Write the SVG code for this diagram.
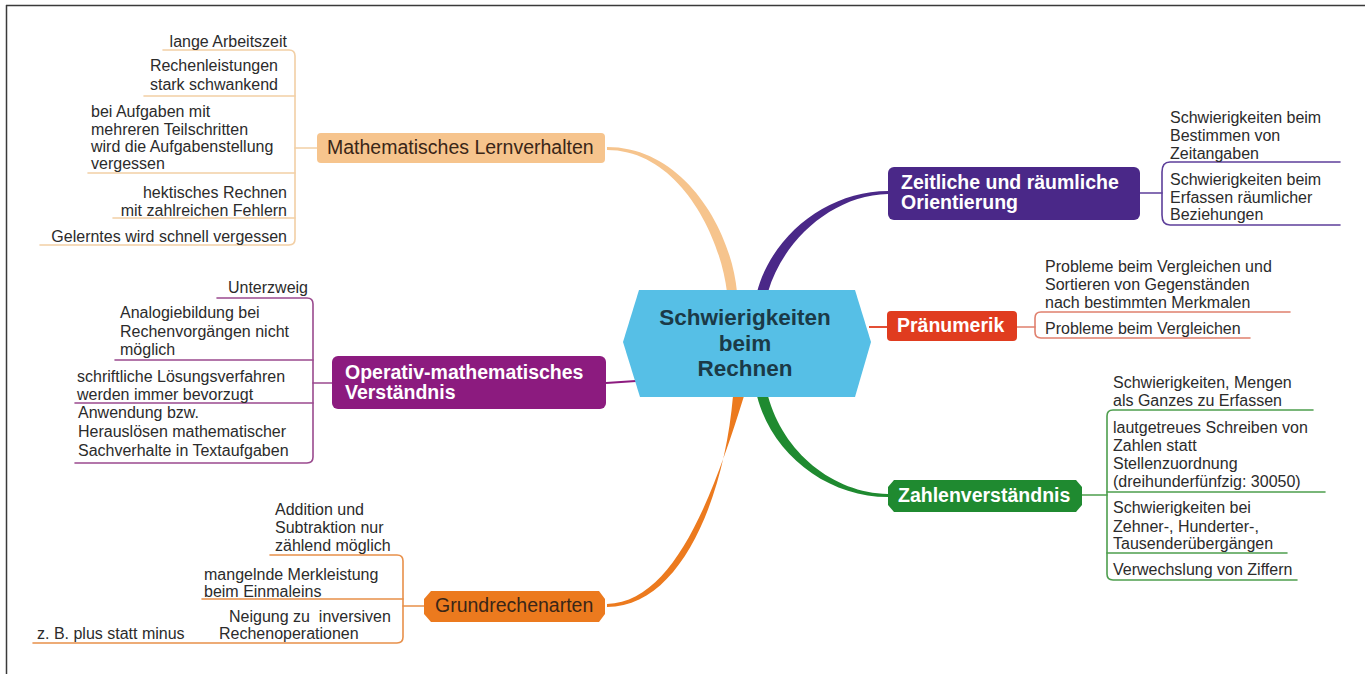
<svg xmlns="http://www.w3.org/2000/svg" width="1365" height="674" viewBox="0 0 1365 674">
  <style>
    .leaf { font-family: "Liberation Sans", Arial, sans-serif; font-size: 16px; fill: #2b2b2b; }
    .end { text-anchor: end; }
    .main { font-family: "Liberation Sans", Arial, sans-serif; font-size: 19.5px; }
    .bold { font-weight: bold; fill: #ffffff; }
    .reg { fill: #3a2617; }
    .center { font-family: "Liberation Sans", Arial, sans-serif; font-size: 22.5px; font-weight: bold; fill: #1b3a47; text-anchor: middle; }
    .br { fill: none; stroke-width: 1.6; stroke-linecap: round; stroke-linejoin: round; }
    .peach { stroke: #f2cfa5; }
    .mag { stroke: #9a4a8e; }
    .org { stroke: #e8904a; }
    .pur { stroke: #5d3f9a; }
    .red { stroke: #e0806e; }
    .grn { stroke: #4e9e4e; }
  </style>

  <!-- frame -->
  <g id="frame" stroke="#3a3a3a" stroke-width="1.5" fill="none">
    <line x1="6" y1="5.5" x2="1365" y2="5.5"/>
    <line x1="6.5" y1="5" x2="6.5" y2="674"/>
  </g>

  <!-- connectors: main branches and leaf brackets -->
  <g id="connectors">
    <!-- tapered main branches -->
    <path d="M607,147 C683,147 731,228 737,292 L727,292 C720,234 678,150 607,150 Z" fill="#f6c48d"/>
    <path d="M757,292 C772,235 828,191 888,191 L888,194 C833,195 783,240 768,292 Z" fill="#4a2888"/>
    <path d="M757,396 C772,455 828,497 888,497 L888,494 C833,493 783,452 768,396 Z" fill="#1f8a30"/>
    <path d="M733,396 C724,500 680,607 607,607 L607,604 C673,602 712,500 744,396 Z" fill="#ec7a1e"/>
    <line x1="606" y1="383" x2="636" y2="381" stroke="#8c1b7f" stroke-width="1.8"/>
    <line x1="869" y1="327" x2="887" y2="327" stroke="#e03c1f" stroke-width="1.8"/>

    <!-- Mathematisches Lernverhalten leaves -->
    <path class="br peach" d="M163,50 H289 Q295,50 295,56 V239 Q295,245 289,245 H40"/>
    <path class="br peach" d="M144,96 H295 M88,173 H295 M113,218 H295 M295,148 H317"/>

    <!-- Operativ-mathematisches Verständnis leaves -->
    <path class="br mag" d="M217,298 H307 Q313,298 313,304 V457 Q313,463 307,463 H75"/>
    <path class="br mag" d="M115,360 H313 M75,403 H313 M313,383 H332"/>

    <!-- Grundrechenarten leaves -->
    <path class="br org" d="M270,555 H397 Q403,555 403,561 V637 Q403,643 397,643 H33"/>
    <path class="br org" d="M202,599 H403 M403,606 H424"/>

    <!-- Zeitliche und räumliche Orientierung leaves -->
    <path class="br pur" d="M1340,162 H1170 Q1162,162 1162,172 V215 Q1162,225 1170,225 H1340"/>
    <path class="br pur" d="M1140,193 H1162"/>

    <!-- Pränumerik leaves -->
    <path class="br red" d="M1290,312 H1041 Q1035,312 1035,318 V332 Q1035,338 1041,338 H1250"/>
    <path class="br red" d="M1017,327 H1035"/>

    <!-- Zahlenverständnis leaves -->
    <path class="br grn" d="M1313,410 H1113 Q1107,410 1107,416 V574 Q1107,580 1113,580 H1297"/>
    <path class="br grn" d="M1107,492 H1325 M1107,553 H1287 M1082,495 H1107"/>
  </g>

  <!-- central topic -->
  <g id="center">
    <polygon points="639,290 855,290 871,342 855,397 640,397 623,342" fill="#56bfe6"/>
    <text class="center" x="745" y="325">Schwierigkeiten</text>
    <text class="center" x="745" y="351">beim</text>
    <text class="center" x="745" y="376">Rechnen</text>
  </g>

  <!-- branch: Mathematisches Lernverhalten -->
  <g id="mathematisches-lernverhalten">
    <rect x="317" y="133" width="288" height="30" rx="4" fill="#f6c48d"/>
    <text class="main reg" x="327" y="154">Mathematisches Lernverhalten</text>
  </g>
  <g id="math-leaves" class="leaf">
    <text class="leaf end" x="287" y="47">lange Arbeitszeit</text>
    <text class="leaf end" x="278" y="71">Rechenleistungen</text>
    <text class="leaf end" x="278" y="90">stark schwankend</text>
    <text class="leaf" x="91" y="117">bei Aufgaben mit</text>
    <text class="leaf" x="91" y="135">mehreren Teilschritten</text>
    <text class="leaf" x="91" y="152">wird die Aufgabenstellung</text>
    <text class="leaf" x="91" y="169">vergessen</text>
    <text class="leaf end" x="287" y="198">hektisches Rechnen</text>
    <text class="leaf end" x="287" y="216">mit zahlreichen Fehlern</text>
    <text class="leaf end" x="287" y="242">Gelerntes wird schnell vergessen</text>
  </g>

  <!-- branch: Operativ-mathematisches Verständnis -->
  <g id="operativ-mathematisches-verstaendnis">
    <rect x="332" y="356" width="274" height="53" rx="6" fill="#8c1b7f"/>
    <text class="main bold" x="345" y="379">Operativ-mathematisches</text>
    <text class="main bold" x="345" y="399">Verständnis</text>
  </g>
  <g id="operativ-leaves">
    <text class="leaf end" x="308" y="293">Unterzweig</text>
    <text class="leaf" x="120" y="318">Analogiebildung bei</text>
    <text class="leaf" x="120" y="337">Rechenvorgängen nicht</text>
    <text class="leaf" x="120" y="355">möglich</text>
    <text class="leaf" x="77" y="382">schriftliche Lösungsverfahren</text>
    <text class="leaf" x="77" y="400">werden immer bevorzugt</text>
    <text class="leaf" x="78" y="418">Anwendung bzw.</text>
    <text class="leaf" x="78" y="437">Herauslösen mathematischer</text>
    <text class="leaf" x="78" y="456">Sachverhalte in Textaufgaben</text>
  </g>

  <!-- branch: Grundrechenarten -->
  <g id="grundrechenarten">
    <polygon points="431,591 599,591 605,599 605,614 599,622 431,622 424,614 424,599" fill="#ec7a1e"/>
    <text class="main reg" x="435" y="612">Grundrechenarten</text>
  </g>
  <g id="grund-leaves">
    <text class="leaf" x="275" y="515">Addition und</text>
    <text class="leaf" x="275" y="533">Subtraktion nur</text>
    <text class="leaf" x="275" y="551">zählend möglich</text>
    <text class="leaf" x="204" y="580">mangelnde Merkleistung</text>
    <text class="leaf" x="204" y="597">beim Einmaleins</text>
    <text class="leaf" x="229" y="622" xml:space="preserve">Neigung zu  inversiven</text>
    <text class="leaf" x="219" y="639">Rechenoperationen</text>
    <text class="leaf" x="37" y="639">z. B. plus statt minus</text>
  </g>

  <!-- branch: Zeitliche und räumliche Orientierung -->
  <g id="zeitliche-raeumliche-orientierung">
    <rect x="888" y="167" width="252" height="53" rx="6" fill="#4a2888"/>
    <text class="main bold" x="901" y="189">Zeitliche und räumliche</text>
    <text class="main bold" x="901" y="209">Orientierung</text>
  </g>
  <g id="zeitliche-leaves">
    <text class="leaf" x="1170" y="123">Schwierigkeiten beim</text>
    <text class="leaf" x="1170" y="141">Bestimmen von</text>
    <text class="leaf" x="1170" y="159">Zeitangaben</text>
    <text class="leaf" x="1170" y="185">Schwierigkeiten beim</text>
    <text class="leaf" x="1170" y="203">Erfassen räumlicher</text>
    <text class="leaf" x="1170" y="220">Beziehungen</text>
  </g>

  <!-- branch: Pränumerik -->
  <g id="praenumerik">
    <rect x="887" y="311" width="130" height="30" rx="4" fill="#e03c1f"/>
    <text class="main bold" x="897" y="332">Pränumerik</text>
  </g>
  <g id="praenumerik-leaves">
    <text class="leaf" x="1045" y="272">Probleme beim Vergleichen und</text>
    <text class="leaf" x="1045" y="290">Sortieren von Gegenständen</text>
    <text class="leaf" x="1045" y="308">nach bestimmten Merkmalen</text>
    <text class="leaf" x="1045" y="334">Probleme beim Vergleichen</text>
  </g>

  <!-- branch: Zahlenverständnis -->
  <g id="zahlenverstaendnis">
    <polygon points="894,480 1076,480 1082,487 1082,505 1076,512 894,512 888,505 888,487" fill="#1f8a30"/>
    <text class="main bold" x="898" y="502">Zahlenverständnis</text>
  </g>
  <g id="zahlen-leaves">
    <text class="leaf" x="1113" y="388">Schwierigkeiten, Mengen</text>
    <text class="leaf" x="1113" y="406">als Ganzes zu Erfassen</text>
    <text class="leaf" x="1113" y="433">lautgetreues Schreiben von</text>
    <text class="leaf" x="1113" y="451">Zahlen statt</text>
    <text class="leaf" x="1113" y="469">Stellenzuordnung</text>
    <text class="leaf" x="1113" y="487">(dreihunderfünfzig: 30050)</text>
    <text class="leaf" x="1113" y="513">Schwierigkeiten bei</text>
    <text class="leaf" x="1113" y="532">Zehner-, Hunderter-,</text>
    <text class="leaf" x="1113" y="549">Tausenderübergängen</text>
    <text class="leaf" x="1113" y="575">Verwechslung von Ziffern</text>
  </g>
</svg>
